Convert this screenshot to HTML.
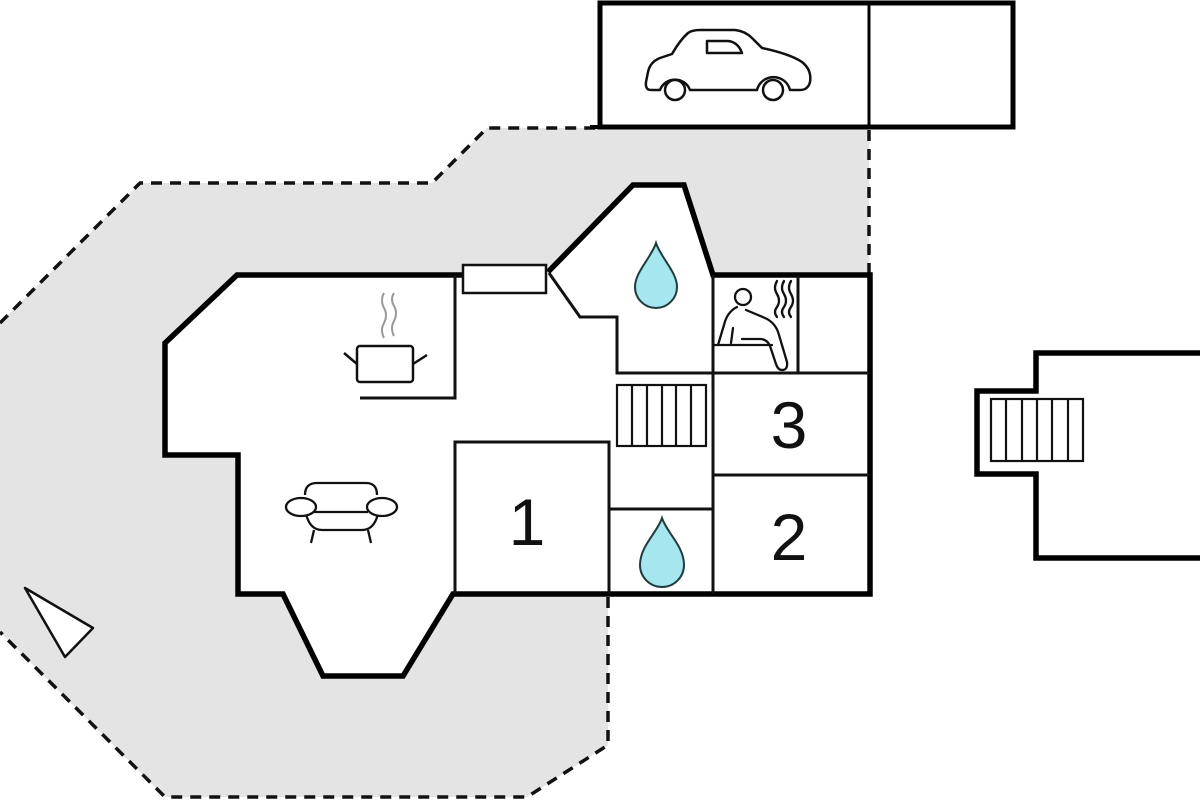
<!DOCTYPE html>
<html><head><meta charset="utf-8"><style>
html,body{margin:0;padding:0;background:#fff;}
svg{display:block;}
text{font-family:"Liberation Sans",Arial,sans-serif;}
</style></head><body>
<svg width="1200" height="800" viewBox="0 0 1200 800" xmlns="http://www.w3.org/2000/svg">
<rect width="1200" height="800" fill="#fff"/>
<!-- gray terrace -->
<polygon points="0,323 140,183 432,183 487,128 869,128 869,595 608,595 608,745 527,797 165,797 0,632" fill="#e4e4e4"/>
<!-- dashed outline -->
<g fill="none" stroke="#111" stroke-width="3.5" stroke-dasharray="11,8">
<polyline points="0,323 140,183 432,183 487,128 598,128"/>
<line x1="869" y1="130" x2="869" y2="275"/>
<polyline points="608,597 608,745 527,797 165,797 0,632"/>
</g>
<!-- garage -->
<rect x="600" y="3" width="413" height="124" fill="#fff" stroke="#000" stroke-width="5"/>
<line x1="590" y1="127" x2="600" y2="127" stroke="#000" stroke-width="4"/>
<line x1="869" y1="3" x2="869" y2="127" stroke="#000" stroke-width="3"/>
<!-- car -->
<g fill="none" stroke="#111" stroke-width="2.5" stroke-linejoin="round">
<path d="M660,90 L651,90 Q645,90 646,82 L648,72 Q650,62 660,58 L672,54 Q680,40 688,33 Q692,30 700,30 L735,30 Q745,31 752,38 L762,48 Q790,54 802,62 Q812,70 810,82 Q808,90 800,90 L790,90 A17,17 0 0 0 757,90 L690,90 A16,16 0 0 0 660,90 Z"/>
<circle cx="675" cy="90" r="10"/>
<circle cx="773" cy="90" r="10"/>
<path d="M707,41 L728,41 Q738,42 742,53 L707,53 Z"/>
</g>
<!-- main building -->
<polygon points="237,275 462,275 548,272 633,185 684,185 713,275 870,275 870,594 453,594 403,676 323,676 283,594 238,594 238,455 165,455 165,343" fill="#fff"/>
<polyline points="462,275 237,275 165,343 165,455 238,455 238,594 283,594 323,676 403,676 453,594 870,594 870,275 713,275 684,185 633,185 548,272" fill="none" stroke="#000" stroke-width="5.5" stroke-linejoin="miter"/>
<!-- window -->
<rect x="463" y="265" width="83" height="28" fill="#fff" stroke="#111" stroke-width="2.5"/>
<!-- inner walls -->
<g fill="none" stroke="#111" stroke-width="3">
<polyline points="455,275 455,398 360,398"/>
<polyline points="549,273 580,317 617,317 617,373 870,373"/>
<line x1="713" y1="275" x2="713" y2="594"/>
<line x1="798" y1="275" x2="798" y2="373"/>
<line x1="713" y1="475" x2="870" y2="475"/>
<polyline points="455,594 455,442 609,442 609,594"/>
<line x1="609" y1="509" x2="713" y2="509"/>
</g>
<!-- stairs -->
<g fill="none" stroke="#111" stroke-width="2.2">
<rect x="617" y="385" width="89" height="61"/>
<line x1="632" y1="385" x2="632" y2="446"/>
<line x1="647" y1="385" x2="647" y2="446"/>
<line x1="662" y1="385" x2="662" y2="446"/>
<line x1="676" y1="385" x2="676" y2="446"/>
<line x1="691" y1="385" x2="691" y2="446"/>
</g>
<!-- drops -->
<path d="M656,243 C651,258 635,272 635,287 A21,21 0 0 0 677,287 C677,272 661,258 656,243 Z" fill="#a5e6ef" stroke="#1f3d3d" stroke-width="2"/>
<path d="M662,518 C657,533 640,546 640,565 A22,22 0 0 0 684,565 C684,546 667,533 662,518 Z" fill="#a5e6ef" stroke="#1f3d3d" stroke-width="2"/>
<!-- pot -->
<g fill="none" stroke="#111" stroke-width="2.5">
<rect x="357" y="346" width="56" height="36" rx="3"/>
<line x1="344" y1="353" x2="357" y2="364"/>
<line x1="427" y1="355" x2="413" y2="364"/>
</g>
<g fill="none" stroke="#999" stroke-width="2">
<path d="M384,338 q-4,-8 0,-15 q4,-8 0,-15 q-4,-8 0,-15"/>
<path d="M394,336 q-4,-8 0,-15 q4,-8 0,-15 q-4,-7 0,-13"/>
</g>
<!-- sofa -->
<g fill="#fff" stroke="#111" stroke-width="2.3">
<path d="M305,495 Q305,483 317,483 L366,483 Q377,483 377,495"/>
<path d="M306,514 Q310,530 322,530 L362,530 Q374,530 378,514" fill="none"/>
<line x1="314" y1="512" x2="368" y2="512"/>
<ellipse cx="301" cy="507" rx="15" ry="9"/>
<ellipse cx="382" cy="507" rx="15" ry="9"/>
<line x1="314" y1="530" x2="311" y2="543"/>
<line x1="368" y1="530" x2="371" y2="543"/>
</g>
<!-- sauna -->
<g fill="none" stroke="#111" stroke-width="2.3" stroke-linecap="round" stroke-linejoin="round">
<circle cx="743" cy="297" r="8"/>
<path d="M737,307 Q727,312 724,325 L718,345"/>
<path d="M733,328 L731,343"/>
<path d="M746,310 L765,318 Q776,323 779,335 L787,362 Q788,370 782,370 Q778,370 776,364 L770,346 Q767,339 760,339 L742,339"/>
<line x1="713" y1="345" x2="772" y2="345"/>
<path d="M777,281 q-4,7 0,13 q4,7 0,13 q-4,5 0,10"/>
<path d="M784,281 q-4,7 0,13 q4,7 0,13 q-4,5 0,10"/>
<path d="M791,281 q-4,7 0,13 q4,7 0,13 q-4,5 0,10"/>
</g>
<!-- room numbers -->
<text x="527" y="545" font-size="66" text-anchor="middle" fill="#111">1</text>
<text x="789" y="448" font-size="66" text-anchor="middle" fill="#111">3</text>
<text x="789" y="560" font-size="66" text-anchor="middle" fill="#111">2</text>
<!-- north triangle -->
<polygon points="25,588 93,628 65,657" fill="#fff" stroke="#111" stroke-width="2.5" stroke-linejoin="round"/>
<!-- right building -->
<polygon points="1210,353 1036,353 1036,391 977,391 977,474 1036,474 1036,558 1210,558" fill="#fff" stroke="#000" stroke-width="5.5"/>
<g fill="none" stroke="#111" stroke-width="2.2">
<rect x="991" y="399" width="92" height="62"/>
<line x1="1006" y1="399" x2="1006" y2="461"/>
<line x1="1022" y1="399" x2="1022" y2="461"/>
<line x1="1037" y1="399" x2="1037" y2="461"/>
<line x1="1052" y1="399" x2="1052" y2="461"/>
<line x1="1068" y1="399" x2="1068" y2="461"/>
</g>
</svg>
</body></html>
